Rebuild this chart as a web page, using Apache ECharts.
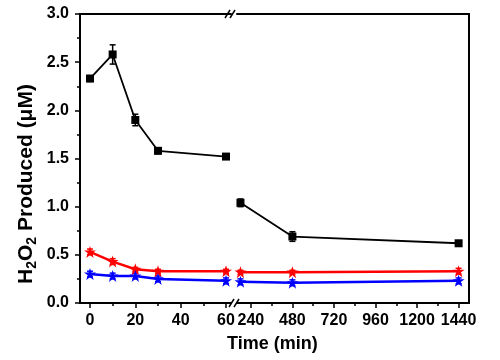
<!DOCTYPE html>
<html><head><meta charset="utf-8">
<script src="https://cdn.jsdelivr.net/npm/echarts@6/dist/echarts.min.js"></script>
<style>html,body{margin:0;padding:0;background:#fff}#c{width:500px;height:360px}</style>
</head><body><div id="c"></div>
<script>
const leftTime = [0, 10, 20, 30, 60];
const rightTime = [180, 480, 1440];
const blackLeft = [2.33, 2.58, 1.90, 1.58, 1.52];
const blackLeftErr = [0.03, 0.10, 0.06, 0.03, 0.01];
const blackRight = [1.04, 0.69, 0.62];
const blackRightErr = [0.04, 0.05, 0.02];
const redLeft = [0.53, 0.43, 0.35, 0.33, 0.33];
const redLeftErr = [0.03, 0.03, 0.02, 0.02, 0.02];
const redRight = [0.32, 0.32, 0.33];
const redRightErr = [0.02, 0.02, 0.03];
const blueLeft = [0.30, 0.28, 0.28, 0.25, 0.23];
const blueLeftErr = [0.03, 0.03, 0.03, 0.03, 0.03];
const blueRight = [0.22, 0.21, 0.23];
const blueRightErr = [0.03, 0.03, 0.03];
const leftTicks = [0, 20, 40, 60];
const leftMinor = [10, 30, 50];
const rightTicks = [240, 480, 720, 960, 1200, 1440];
const rightMinor = [360, 600, 840, 1080, 1320];

const FONT = '"Liberation Sans", Arial, sans-serif';
const star = 'path://M12,0 L14.9,8.1 L24,8.1 L16.5,13.1 L19.4,21.9 L12,16.5 L4.6,21.9 L7.5,13.1 L0,8.1 L9.1,8.1 Z';

function pts(xs, ys) { return xs.map((x, i) => [x, ys[i]]); }
function errData(xs, ys, es) { return xs.map((x, i) => [x, ys[i] - es[i], ys[i] + es[i]]); }
function errSeries(xi, yi, xs, ys, es, color) {
  return {
    type: 'custom', xAxisIndex: xi, yAxisIndex: yi, z: 3,
    data: errData(xs, ys, es),
    renderItem: function (params, api) {
      const lo = api.coord([api.value(0), api.value(1)]);
      const hi = api.coord([api.value(0), api.value(2)]);
      const w = 3;
      const st = { stroke: color, lineWidth: 1.5 };
      return { type: 'group', children: [
        { type: 'line', shape: { x1: lo[0], y1: lo[1], x2: hi[0], y2: hi[1] }, style: st },
        { type: 'line', shape: { x1: lo[0] - w, y1: lo[1], x2: lo[0] + w, y2: lo[1] }, style: st },
        { type: 'line', shape: { x1: hi[0] - w, y1: hi[1], x2: hi[0] + w, y2: hi[1] }, style: st }
      ]};
    }
  };
}
function lineSeries(xi, yi, xs, ys, color, symbol, size, lw) {
  return {
    type: 'line', xAxisIndex: xi, yAxisIndex: yi, data: pts(xs, ys), z: 4,
    symbol: symbol, symbolSize: size, showSymbol: true,
    lineStyle: { color: color, width: lw }, itemStyle: { color: color, borderWidth: 0 },
    animation: false
  };
}
const axLine = { show: true, onZero: false, lineStyle: { color: '#000', width: 2 } };
function lab(extra) {
  return Object.assign({ color: '#000', fontSize: 16, fontWeight: 'bold', fontFamily: FONT }, extra);
}

const option = {
  animation: false,
  grid: [
    { left: 80, top: 14, width: 151, bottom: 57 },
    { left: 237, top: 14, width: 232, bottom: 57 }
  ],
  xAxis: [
    { type: 'value', gridIndex: 0, position: 'bottom', min: -4.4, max: 62.2,
      axisLine: axLine, splitLine: { show: false },
      axisTick: { show: true, length: 5, lineStyle: { color: '#000', width: 1.5 }, customValues: leftTicks },
      axisLabel: lab({ margin: 10, customValues: leftTicks, formatter: v => String(v) }) },
    { type: 'value', gridIndex: 1, position: 'bottom', min: 160, max: 1500,
      axisLine: axLine, splitLine: { show: false },
      axisTick: { show: true, length: 5, lineStyle: { color: '#000', width: 1.5 }, customValues: rightTicks },
      axisLabel: lab({ margin: 10, customValues: rightTicks, formatter: v => String(v) }) },
    { type: 'value', gridIndex: 0, position: 'bottom', min: -4.4, max: 62.2,
      axisLine: { show: false }, splitLine: { show: false }, axisLabel: { show: false },
      axisTick: { show: true, length: 3, lineStyle: { color: '#000', width: 1.5 }, customValues: leftMinor } },
    { type: 'value', gridIndex: 1, position: 'bottom', min: 160, max: 1500,
      axisLine: { show: false }, splitLine: { show: false }, axisLabel: { show: false },
      axisTick: { show: true, length: 3, lineStyle: { color: '#000', width: 1.5 }, customValues: rightMinor } },
    { type: 'value', gridIndex: 0, position: 'top', min: -4.4, max: 62.2,
      axisLine: axLine, axisTick: { show: false }, axisLabel: { show: false }, splitLine: { show: false } },
    { type: 'value', gridIndex: 1, position: 'top', min: 160, max: 1500,
      axisLine: axLine, axisTick: { show: false }, axisLabel: { show: false }, splitLine: { show: false } }
  ],
  yAxis: [
    { type: 'value', gridIndex: 0, position: 'left', min: 0, max: 3, interval: 0.5,
      axisLine: axLine, splitLine: { show: false },
      axisTick: { show: true, length: 5, lineStyle: { color: '#000', width: 1.5 } },
      minorTick: { show: true, splitNumber: 2, length: 3, lineStyle: { color: '#000', width: 1.5 } },
      axisLabel: lab({ margin: 11, formatter: v => v.toFixed(1) }) },
    { type: 'value', gridIndex: 1, position: 'right', min: 0, max: 3, interval: 0.5,
      axisLine: axLine, axisTick: { show: false }, axisLabel: { show: false }, splitLine: { show: false } }
  ],
  graphic: [
    { type: 'text', x: 26, y: 184, rotation: Math.PI / 2,
      style: { text: '{a|H}{s|2}{a|O}{s|2}{a| Produced (μM)}', align: 'center', verticalAlign: 'middle',
        fill: '#000', font: 'bold 21px ' + FONT,
        rich: {
          a: { fontSize: 21, fontWeight: 'bold', fontFamily: FONT, fill: '#000', lineHeight: 26, verticalAlign: 'middle' },
          s: { fontSize: 14, fontWeight: 'bold', fontFamily: FONT, fill: '#000', lineHeight: 14, padding: [12, 0, 0, 0], verticalAlign: 'middle' }
        } } },
    { type: 'text', left: 227, top: 335, style: { text: 'Time (min)', fill: '#000', font: 'bold 18px ' + FONT } },
    { type: 'line', shape: { x1: 225, y1: 18, x2: 230, y2: 10 }, style: { stroke: '#000', lineWidth: 1.5 } },
    { type: 'line', shape: { x1: 230, y1: 18, x2: 235, y2: 10 }, style: { stroke: '#000', lineWidth: 1.5 } },
    { type: 'line', shape: { x1: 229, y1: 307, x2: 234, y2: 299 }, style: { stroke: '#000', lineWidth: 1.5 } },
    { type: 'line', shape: { x1: 234, y1: 307, x2: 239, y2: 299 }, style: { stroke: '#000', lineWidth: 1.5 } }
  ],
  series: [
    errSeries(0, 0, leftTime, blackLeft, blackLeftErr, '#000'),
    errSeries(1, 1, rightTime, blackRight, blackRightErr, '#000'),
    errSeries(0, 0, leftTime, redLeft, redLeftErr, '#ff0000'),
    errSeries(1, 1, rightTime, redRight, redRightErr, '#ff0000'),
    errSeries(0, 0, leftTime, blueLeft, blueLeftErr, '#0000ff'),
    errSeries(1, 1, rightTime, blueRight, blueRightErr, '#0000ff'),
    lineSeries(0, 0, leftTime, blackLeft, '#000', 'rect', 8, 1.8),
    lineSeries(1, 1, rightTime, blackRight, '#000', 'rect', 8, 1.8),
    lineSeries(0, 0, leftTime, redLeft, '#ff0000', star, 12, 2.5),
    lineSeries(1, 1, rightTime, redRight, '#ff0000', star, 12, 2.5),
    lineSeries(0, 0, leftTime, blueLeft, '#0000ff', star, 12, 2.5),
    lineSeries(1, 1, rightTime, blueRight, '#0000ff', star, 12, 2.5)
  ]
};
echarts.init(document.getElementById('c'), null, { renderer: 'canvas' }).setOption(option);
</script></body></html>
